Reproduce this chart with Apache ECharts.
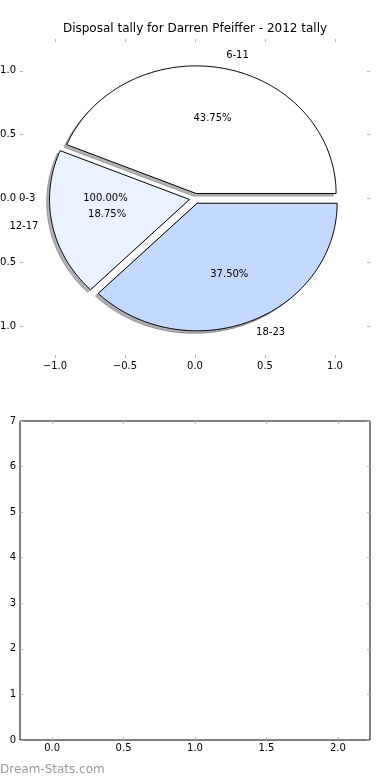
<!DOCTYPE html>
<html>
<head>
<meta charset="utf-8">
<script src="https://cdn.jsdelivr.net/npm/echarts@6/dist/echarts.min.js"></script>
<style>
html,body{margin:0;padding:0;background:#fff;}
#chart{width:390px;height:780px;}
</style>
</head>
<body>
<div id="chart"></div>
<script>
// ---- data ----
const chartTitle = 'Disposal tally for Darren Pfeiffer - 2012 tally';
const categories = ['6-11', '12-17', '18-23'];
const tallies = [7, 3, 6];
const sliceColors = ['#ffffff', '#eaf1ff', '#c4d9ff'];
const priorCategories = ['0-3'];
const priorShares = ['100.00%'];
const pieTicks = [-1, -0.5, 0, 0.5, 1];
const lowerXTicks = [0, 0.5, 1, 1.5, 2];
const lowerYMax = 7;
const watermark = 'Dream-Stats.com';

// ---- styling constants ----
const FONT = 'DejaVu Sans';
const EXPLODE = 0.04;
const LABEL_DIST = 1.1;
const PCT_DIST = 0.6;
const SHADOW_OFF = -0.02;
const TICK_COLOR = '#b4b4b4';

const total = tallies.reduce((a, b) => a + b, 0);
const wedgeData = [];
let acc = 0;
tallies.forEach((v, i) => {
  const s = acc / total * 360;
  acc += v;
  const e = acc / total * 360;
  wedgeData.push({ value: [s, e, i] });
});
const labelData = [];
wedgeData.forEach((w, i) => {
  labelData.push({ value: [w.value[0], w.value[1]], name: categories[i],
    pct: (tallies[i] / total * 100).toFixed(2) + '%' });
});
priorCategories.forEach((c, i) => {
  labelData.push({ value: [0, 360], name: c, pct: priorShares[i] });
});

function rad(d) { return d * Math.PI / 180; }
function wedgePoints(api, s, e, dx, dy) {
  const m = rad((s + e) / 2);
  const cx = EXPLODE * Math.cos(m) + dx, cy = EXPLODE * Math.sin(m) + dy;
  const pts = [api.coord([cx, cy])];
  const n = Math.max(2, Math.ceil(e - s));
  for (let k = 0; k <= n; k++) {
    const t = rad(s + (e - s) * k / n);
    pts.push(api.coord([cx + Math.cos(t), cy + Math.sin(t)]));
  }
  return pts;
}
function shadowColor(hex) {
  const r = parseInt(hex.slice(1, 3), 16), g = parseInt(hex.slice(3, 5), 16), b = parseInt(hex.slice(5, 7), 16);
  return 'rgba(' + Math.round(r * 0.3) + ',' + Math.round(g * 0.3) + ',' + Math.round(b * 0.3) + ',0.42)';
}
const fmtMinus = v => (v < 0 ? '\u2212' : '') + Math.abs(v).toFixed(1);

const chart = echarts.init(document.getElementById('chart'), null, { renderer: 'canvas' });

const tickStyle = { show: true, inside: true, length: 3, lineStyle: { color: TICK_COLOR, width: 1 } };
const labelStyle = { color: '#000', fontSize: 10, fontFamily: FONT };
const noLine = { show: false, onZero: false };

const option = {
  backgroundColor: '#fff',
  animation: false,
  title: {
    text: chartTitle, left: 'center', top: 23, padding: 0,
    textStyle: { fontSize: 12, fontWeight: 'normal', color: '#000', fontFamily: FONT }
  },
  grid: [
    { left: 20, top: 39, width: 350, height: 319, show: false, containLabel: false, outerBoundsMode: 'none' },
    { left: 20, top: 421, width: 350, height: 319, show: true, borderColor: '#000', borderWidth: 1,
      backgroundColor: 'transparent', containLabel: false, outerBoundsMode: 'none' }
  ],
  xAxis: [
    { gridIndex: 0, type: 'value', position: 'bottom', min: -1.25, max: 1.25,
      axisLine: noLine, splitLine: { show: false },
      axisTick: Object.assign({ customValues: pieTicks }, tickStyle),
      axisLabel: Object.assign({ customValues: pieTicks, margin: 3, formatter: fmtMinus }, labelStyle) },
    { gridIndex: 0, type: 'value', position: 'top', min: -1.25, max: 1.25,
      axisLine: noLine, splitLine: { show: false },
      axisTick: Object.assign({ customValues: pieTicks }, tickStyle),
      axisLabel: { show: false } },
    { gridIndex: 1, type: 'value', position: 'bottom', min: -0.225, max: 2.225,
      axisLine: noLine, splitLine: { show: false },
      axisTick: Object.assign({ customValues: lowerXTicks }, tickStyle),
      axisLabel: Object.assign({ customValues: lowerXTicks, margin: 3, formatter: v => v.toFixed(1) }, labelStyle) },
    { gridIndex: 1, type: 'value', position: 'top', min: -0.225, max: 2.225,
      axisLine: noLine, splitLine: { show: false },
      axisTick: Object.assign({ customValues: lowerXTicks }, tickStyle),
      axisLabel: { show: false } }
  ],
  yAxis: [
    { gridIndex: 0, type: 'value', position: 'left', min: -1.25, max: 1.25,
      axisLine: noLine, splitLine: { show: false },
      axisTick: Object.assign({ customValues: pieTicks }, tickStyle),
      axisLabel: Object.assign({ customValues: pieTicks, margin: 4, formatter: fmtMinus }, labelStyle) },
    { gridIndex: 0, type: 'value', position: 'right', min: -1.25, max: 1.25,
      axisLine: noLine, splitLine: { show: false },
      axisTick: Object.assign({ customValues: pieTicks }, tickStyle),
      axisLabel: { show: false } },
    { gridIndex: 1, type: 'value', position: 'left', min: 0, max: lowerYMax, interval: 1,
      axisLine: noLine, splitLine: { show: false },
      axisTick: tickStyle,
      axisLabel: Object.assign({ margin: 4, formatter: v => String(v) }, labelStyle) },
    { gridIndex: 1, type: 'value', position: 'right', min: 0, max: lowerYMax, interval: 1,
      axisLine: noLine, splitLine: { show: false },
      axisTick: tickStyle,
      axisLabel: { show: false } }
  ],
  graphic: [
    { type: 'text', left: 0, top: 764, silent: true,
      style: { text: watermark, fontSize: 12, fontFamily: FONT, fill: '#999999' } }
  ],
  series: [
    { type: 'custom', name: 'shadows', xAxisIndex: 0, yAxisIndex: 0, clip: false, z: 1,
      data: wedgeData,
      renderItem: function (params, api) {
        const s = api.value(0), e = api.value(1), i = api.value(2);
        const c = shadowColor(sliceColors[i]);
        return { type: 'polygon', shape: { points: wedgePoints(api, s, e, SHADOW_OFF, SHADOW_OFF) },
          style: { fill: c, stroke: c, lineWidth: 1 } };
      } },
    { type: 'custom', name: 'wedges', xAxisIndex: 0, yAxisIndex: 0, clip: false, z: 2,
      data: wedgeData,
      renderItem: function (params, api) {
        const s = api.value(0), e = api.value(1), i = api.value(2);
        return { type: 'polygon', shape: { points: wedgePoints(api, s, e, 0, 0) },
          style: { fill: sliceColors[i], stroke: '#000', lineWidth: 1, lineJoin: 'miter' } };
      } },
    { type: 'custom', name: 'labels', xAxisIndex: 0, yAxisIndex: 0, clip: false, z: 3,
      data: labelData,
      renderItem: function (params, api) {
        const item = labelData[params.dataIndex];
        const s = api.value(0), e = api.value(1);
        const m = rad((s + e) / 2);
        const cx = EXPLODE * Math.cos(m), cy = EXPLODE * Math.sin(m);
        const lx = cx + LABEL_DIST * Math.cos(m), ly = cy + LABEL_DIST * Math.sin(m);
        const px = cx + PCT_DIST * Math.cos(m), py = cy + PCT_DIST * Math.sin(m);
        const lp = api.coord([lx, ly]), pp = api.coord([px, py]);
        return { type: 'group', children: [
          { type: 'text', style: { text: item.name, x: lp[0], y: lp[1], align: lx > 0 ? 'left' : 'right',
              verticalAlign: 'middle', fontSize: 10, fontFamily: FONT, fill: '#000' } },
          { type: 'text', style: { text: item.pct, x: pp[0], y: pp[1], align: 'center',
              verticalAlign: 'middle', fontSize: 10, fontFamily: FONT, fill: '#000' } }
        ] };
      } }
  ]
};
chart.setOption(option);
</script>
</body>
</html>
